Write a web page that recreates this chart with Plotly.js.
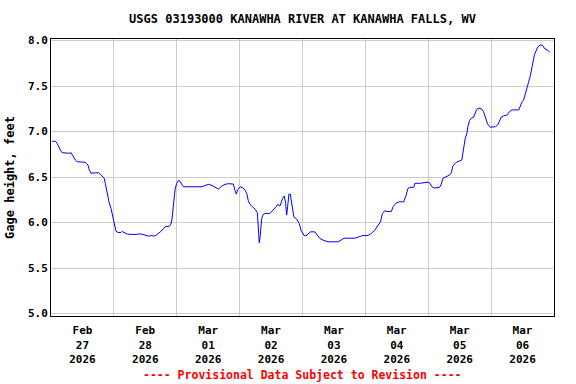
<!DOCTYPE html>
<html>
<head>
<meta charset="utf-8">
<script src="https://cdn.plot.ly/plotly-3.0.1.min.js"></script>
<style>html,body{margin:0;padding:0;background:#fff;}#chart{width:576px;height:384px;}</style>
</head>
<body>
<div id="chart"></div>
<script>
const chartTitle = "USGS 03193000 KANAWHA RIVER AT KANAWHA FALLS, WV";
const yTitle = "Gage height, feet";
const footerText = "---- Provisional Data Subject to Revision ----";

const times = [
"2026-02-27 00:25","2026-02-27 01:41","2026-02-27 02:19","2026-02-27 02:56","2026-02-27 03:35","2026-02-27 04:14",
"2026-02-27 07:01","2026-02-27 07:39","2026-02-27 08:02","2026-02-27 08:39","2026-02-27 09:18","2026-02-27 09:57",
"2026-02-27 12:27","2026-02-27 12:59","2026-02-27 13:29","2026-02-27 14:08","2026-02-27 14:31","2026-02-27 15:17",
"2026-02-27 16:55","2026-02-27 18:10","2026-02-27 18:49","2026-02-27 19:42","2026-02-27 20:21","2026-02-27 20:43",
"2026-02-27 21:22","2026-02-27 22:08","2026-02-27 22:54","2026-02-27 23:30",
"2026-02-28 00:09","2026-02-28 00:48","2026-02-28 01:34","2026-02-28 02:42","2026-02-28 03:05","2026-02-28 03:58",
"2026-02-28 05:13","2026-02-28 08:32","2026-02-28 09:47","2026-02-28 11:05","2026-02-28 11:58","2026-02-28 13:13",
"2026-02-28 14:31","2026-02-28 15:07","2026-02-28 16:09","2026-02-28 17:02","2026-02-28 18:03","2026-02-28 18:56",
"2026-02-28 19:35","2026-02-28 21:13","2026-02-28 21:45","2026-02-28 22:08","2026-02-28 22:31","2026-02-28 22:54",
"2026-02-28 23:23","2026-02-28 23:58",
"2026-03-01 00:32","2026-03-01 01:02","2026-03-01 01:29","2026-03-01 01:57","2026-03-01 02:33","2026-03-01 09:34",
"2026-03-01 10:49","2026-03-01 12:05","2026-03-01 13:22","2026-03-01 14:38","2026-03-01 15:53","2026-03-01 17:11",
"2026-03-01 18:26","2026-03-01 19:42","2026-03-01 21:36","2026-03-01 22:15","2026-03-01 22:45","2026-03-01 23:17",
"2026-03-02 00:09","2026-03-02 01:11","2026-03-02 02:03","2026-03-02 02:42","2026-03-02 03:19","2026-03-02 03:58",
"2026-03-02 04:59","2026-03-02 05:52","2026-03-02 06:45","2026-03-02 07:07","2026-03-02 07:30","2026-03-02 07:53",
"2026-03-02 08:25","2026-03-02 09:02","2026-03-02 09:41","2026-03-02 11:35","2026-03-02 12:50","2026-03-02 13:52",
"2026-03-02 14:31","2026-03-02 15:23","2026-03-02 16:25","2026-03-02 17:02","2026-03-02 17:34","2026-03-02 17:57",
"2026-03-02 18:19","2026-03-02 18:49","2026-03-02 19:19","2026-03-02 19:58","2026-03-02 20:43","2026-03-02 21:45",
"2026-03-02 22:45","2026-03-02 23:26",
"2026-03-03 00:32","2026-03-03 01:18","2026-03-03 02:10","2026-03-03 03:05","2026-03-03 04:43","2026-03-03 05:36",
"2026-03-03 06:38","2026-03-03 07:53","2026-03-03 09:47","2026-03-03 13:36","2026-03-03 14:54","2026-03-03 15:53",
"2026-03-03 19:58","2026-03-03 21:52","2026-03-03 23:07",
"2026-03-04 01:02","2026-03-04 02:19","2026-03-04 03:35","2026-03-04 04:50","2026-03-04 05:45","2026-03-04 06:31",
"2026-03-04 07:23","2026-03-04 08:16","2026-03-04 09:57","2026-03-04 10:33","2026-03-04 11:51","2026-03-04 13:06",
"2026-03-04 14:38","2026-03-04 15:23","2026-03-04 16:16","2026-03-04 16:55","2026-03-04 18:26","2026-03-04 18:56",
"2026-03-04 20:43","2026-03-04 23:53",
"2026-03-05 00:43","2026-03-05 01:25","2026-03-05 02:26","2026-03-05 04:21","2026-03-05 04:59","2026-03-05 05:36",
"2026-03-05 06:54","2026-03-05 08:09","2026-03-05 08:48","2026-03-05 09:25","2026-03-05 10:42","2026-03-05 11:58",
"2026-03-05 12:50","2026-03-05 13:13","2026-03-05 13:36","2026-03-05 14:08","2026-03-05 14:45","2026-03-05 15:07",
"2026-03-05 15:46","2026-03-05 16:25","2026-03-05 17:18","2026-03-05 17:57","2026-03-05 18:33","2026-03-05 19:19",
"2026-03-05 20:21","2026-03-05 21:06","2026-03-05 21:52","2026-03-05 22:38","2026-03-05 23:39",
"2026-03-06 00:39","2026-03-06 01:41","2026-03-06 02:33","2026-03-06 03:12","2026-03-06 03:51","2026-03-06 04:43",
"2026-03-06 05:59","2026-03-06 07:01","2026-03-06 08:02","2026-03-06 10:33","2026-03-06 11:05","2026-03-06 11:51",
"2026-03-06 12:21","2026-03-06 13:06","2026-03-06 13:36","2026-03-06 14:15","2026-03-06 14:54","2026-03-06 15:30",
"2026-03-06 16:09","2026-03-06 16:32","2026-03-06 17:11","2026-03-06 17:47","2026-03-06 18:42","2026-03-06 19:42",
"2026-03-06 20:27","2026-03-06 21:22","2026-03-06 22:22"
];

const gageHeight = [
6.894,6.894,6.872,6.828,6.798,6.769,
6.762,6.769,6.751,6.714,6.688,6.670,
6.670,6.663,6.652,6.633,6.586,6.542,
6.548,6.548,6.531,6.498,6.487,6.432,
6.322,6.229,6.156,6.064,
5.961,5.906,5.892,5.892,5.903,5.892,
5.873,5.870,5.877,5.870,5.859,5.851,
5.859,5.851,5.862,5.881,5.906,5.936,
5.954,5.961,5.983,6.030,6.120,6.240,
6.370,6.430,
6.458,6.462,6.445,6.415,6.394,6.394,
6.410,6.421,6.410,6.388,6.369,6.402,
6.421,6.428,6.424,6.350,6.314,6.366,
6.394,6.383,6.358,6.322,6.240,6.200,
6.174,6.149,6.112,5.936,5.778,5.862,
6.046,6.090,6.101,6.101,6.138,6.174,
6.200,6.182,6.267,6.292,6.211,6.083,
6.174,6.314,6.314,6.211,6.064,6.039,
5.991,5.917,
5.862,5.855,5.877,5.899,5.899,5.862,
5.826,5.807,5.789,5.789,5.815,5.829,
5.829,5.851,5.859,
5.859,5.881,5.917,5.972,6.009,6.101,
6.130,6.123,6.123,6.174,6.218,6.229,
6.229,6.284,6.377,6.388,6.388,6.432,
6.432,6.445,
6.430,6.394,6.380,6.388,6.424,6.487,
6.504,6.523,6.548,6.622,6.663,6.677,
6.688,6.762,6.854,6.927,6.982,7.055,
7.121,7.148,7.159,7.209,7.247,7.258,
7.250,7.220,7.148,7.085,7.048,
7.048,7.055,7.074,7.121,7.159,7.173,
7.181,7.220,7.239,7.239,7.283,7.330,
7.341,7.429,7.467,7.540,7.606,7.680,
7.790,7.845,7.892,7.930,7.952,7.947,
7.911,7.900,7.874
];

const tickDates = ["2026-02-27 12:00","2026-02-28 12:00","2026-03-01 12:00","2026-03-02 12:00",
                   "2026-03-03 12:00","2026-03-04 12:00","2026-03-05 12:00","2026-03-06 12:00"];
const tickLabels = ["Feb<br>27<br>2026","Feb<br>28<br>2026","Mar<br>01<br>2026","Mar<br>02<br>2026",
                    "Mar<br>03<br>2026","Mar<br>04<br>2026","Mar<br>05<br>2026","Mar<br>06<br>2026"];
const yTicks = [5.0,5.5,6.0,6.5,7.0,7.5,8.0];

const FONT = "DejaVu Sans Mono, monospace";

const trace = {
  x: times, y: gageHeight, type: "scatter", mode: "lines",
  line: {color: "#0000FF", width: 1}, hoverinfo: "skip"
};

const layout = {
  width: 576, height: 384,
  margin: {l: 51, r: 22, t: 39, b: 68},
  paper_bgcolor: "#fff", plot_bgcolor: "#fff",
  showlegend: false,
  font: {family: FONT, size: 11, color: "#000", weight: "bold"},
  title: {text: chartTitle, font: {family: FONT, size: 12, color: "#000", weight: "bold"},
          x: 0.5, xref: "paper", y: (384-19)/384, yref: "container", yanchor: "middle"},
  xaxis: {
    type: "date", range: ["2026-02-27 00:00", "2026-03-07 00:00"],
    tickmode: "array", tickvals: tickDates, ticktext: tickLabels,
    ticks: "outside", ticklen: 4, tickcolor: "rgba(0,0,0,0)",
    showgrid: false, zeroline: false,
    showline: true, mirror: true, linecolor: "#000", linewidth: 1,
    tickfont: {family: FONT, size: 11, color: "#000", weight: "bold"},
    minor: {dtick: 86400000, tick0: "2026-02-27", showgrid: true, gridcolor: "#cccccc", gridwidth: 1, ticks: ""},
    fixedrange: true
  },
  yaxis: {
    range: [4.974, 8.018], tickmode: "array", tickvals: yTicks, ticktext: yTicks.map(v => v.toFixed(1)),
    ticks: "", showgrid: true, gridcolor: "#cccccc", gridwidth: 1, zeroline: false,
    showline: true, mirror: true, linecolor: "#000", linewidth: 1,
    tickfont: {family: FONT, size: 11, color: "#000", weight: "bold"},
    title: {text: yTitle, font: {family: FONT, size: 12, color: "#000", weight: "bold"}, standoff: 10},
    fixedrange: true
  },
  annotations: [{
    text: footerText, xref: "paper", yref: "paper", x: 0.5, y: (316-375)/277,
    xanchor: "center", yanchor: "middle", showarrow: false,
    font: {family: FONT, size: 11.5, color: "#FF0000", weight: "bold"}
  }]
};

Plotly.newPlot("chart", [trace], layout, {staticPlot: true, displayModeBar: false});
</script>
</body>
</html>
